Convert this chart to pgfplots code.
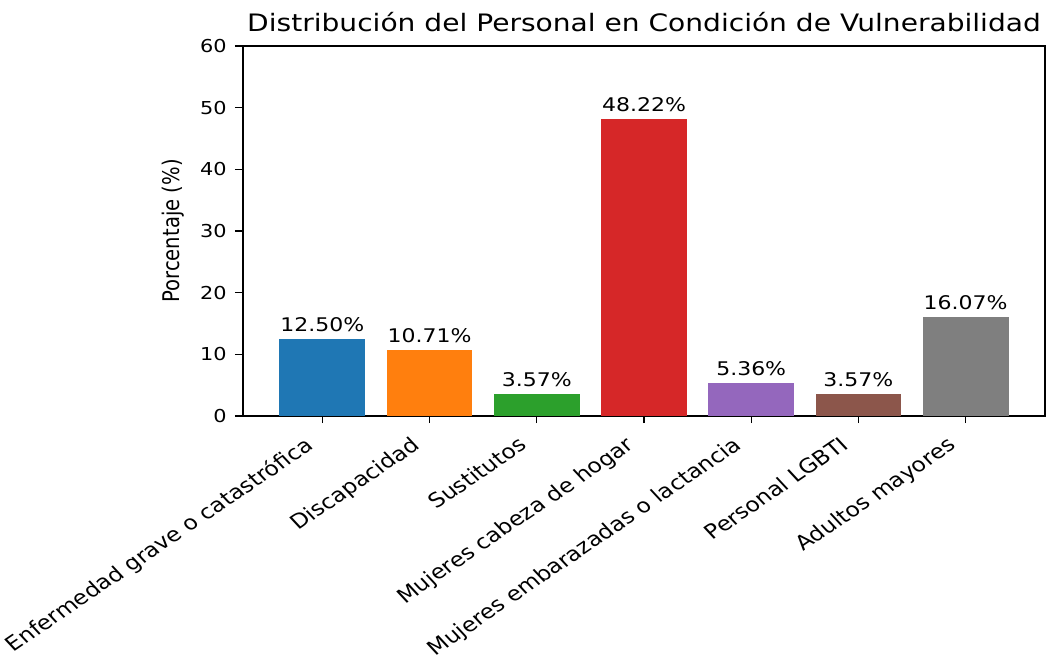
\documentclass[border=0pt]{standalone}
\usepackage{fontspec}
\setmainfont{DejaVu Sans}
\usepackage{graphicx}
\usepackage{pgfplots}
\pgfplotsset{compat=1.18}
\definecolor{c1}{HTML}{1F77B4}
\definecolor{c2}{HTML}{FF7F0E}
\definecolor{c3}{HTML}{2CA02C}
\definecolor{c4}{HTML}{D62728}
\definecolor{c5}{HTML}{9467BD}
\definecolor{c6}{HTML}{8C564B}
\definecolor{c7}{HTML}{7F7F7F}
\begin{document}
\scalebox{1.17}[1]{%
\begin{tikzpicture}
\begin{axis}[
  name=ax,
  scale only axis,
  width=342.7pt, height=185pt,
  xmin=-0.74, xmax=6.74,
  ymin=0, ymax=60,
  ytick={0,10,20,30,40,50,60},
  xtick={0,1,2,3,4,5,6},
  xticklabels={Enfermedad grave o catastrófica,Discapacidad,Sustitutos,Mujeres cabeza de hogar,Mujeres embarazadas o lactancia,Personal LGBTI,Adultos mayores},
  xticklabel style={rotate=38.5, anchor=north east, font=\fontsize{10}{12}\selectfont, inner sep=1.5pt, xshift=-8.8pt, yshift=2pt},
  yticklabel style={font=\fontsize{8.9}{10}\selectfont},
  /pgf/number format/assume math mode=true,
  tick align=outside,
  tick pos=left,
  major tick length=3.5pt,
  tick style={black, line width=0.6pt},
  axis line style={line width=0.6pt},
  ybar,
  bar width=0.8,
  bar shift=0pt,
  title={Distribución del Personal en Condición de Vulnerabilidad},
  title style={font=\fontsize{12}{14}\selectfont, yshift=-2.5pt},
  ylabel={Porcentaje (\%)},
  every axis y label/.style={at={(axis description cs:0,0.5)}, xshift=-30pt, rotate=90, anchor=center, font=\fontsize{9.8}{11}\selectfont},
  nodes near coords,
  nodes near coords style={font=\fontsize{9.4}{10}\selectfont, anchor=south, inner sep=3.2pt},
  point meta=explicit symbolic,
]
\addplot[fill=c1, draw=none] coordinates {(0,12.50) [12.50\%]};
\addplot[fill=c2, draw=none] coordinates {(1,10.71) [10.71\%]};
\addplot[fill=c3, draw=none] coordinates {(2,3.57) [3.57\%]};
\addplot[fill=c4, draw=none] coordinates {(3,48.22) [48.22\%]};
\addplot[fill=c5, draw=none] coordinates {(4,5.36) [5.36\%]};
\addplot[fill=c6, draw=none] coordinates {(5,3.57) [3.57\%]};
\addplot[fill=c7, draw=none] coordinates {(6,16.07) [16.07\%]};
\end{axis}
\pgfresetboundingbox
\path[use as bounding box] ([xshift=-103.85pt, yshift=-121.5pt]ax.south west) rectangle ([xshift=0.43pt, yshift=23pt]ax.north east);
\end{tikzpicture}%
}
\end{document}
